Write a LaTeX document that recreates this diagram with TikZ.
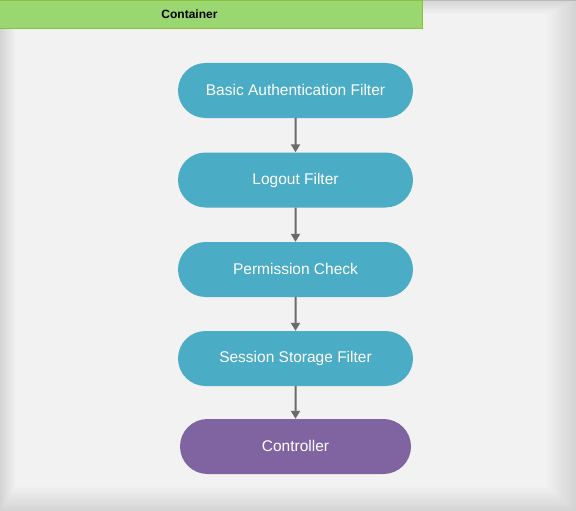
\documentclass[tikz,border=0pt]{standalone}
\usepackage{fontspec}
\setmainfont{Liberation Sans}
\usetikzlibrary{shapes.misc,arrows.meta}
\definecolor{bg}{HTML}{F2F2F2}
\definecolor{edge}{HTML}{D4D4D4}
\definecolor{hdr}{HTML}{9BD770}
\definecolor{hdrline}{HTML}{8CC03C}
\definecolor{blue}{HTML}{4BACC6}
\definecolor{purple}{HTML}{8064A2}
\definecolor{arrowc}{HTML}{6B6B6B}
\tikzset{
  x=1pt,y=-1pt,
  flownode/.style={rounded rectangle, fill=blue, draw=none, minimum width=235pt, minimum height=55pt, text=white, font=\fontsize{15.5}{18}\selectfont, inner sep=0pt},
  ctrlnode/.style={flownode, fill=purple, minimum width=231pt},
  flowarrow/.style={draw=arrowc, line width=2pt, -{Triangle[length=8pt,width=9pt]}}
}
\begin{document}
\begin{tikzpicture}
\useasboundingbox (0,0) rectangle (576,511);
% soft frame: nested rectangles from edge colour to background
\foreach \i in {0,...,20}{
  \pgfmathsetmacro\p{100-5*\i}
  \fill[edge!\p!bg] (0.8*\i,0.7*\i) rectangle (576-1.5*\i,511-1.2*\i);
}
\draw[gray!55, line width=1pt] (0,0.5) -- (576,0.5);
% header
\fill[hdr] (0,0) rectangle (422,29);
\draw[hdrline, line width=1pt] (0,0.5) -- (422,0.5) -- (422,29) -- (0,29);
\node[font=\bfseries\fontsize{12}{14}\selectfont, text=black] (hdr) at (189.5,14.5) {Container};
% nodes
\node[flownode] (baf) at (295.5,90.5) {\raisebox{1pt}{Basic Authentication Filter}};
\node[flownode] (lf) at (295.5,180) {\raisebox{1pt}{Logout Filter}};
\node[flownode] (pc) at (295.5,269.5) {\raisebox{1pt}{Permission Check}};
\node[flownode] (ssf) at (295.5,358.5) {\raisebox{1pt}{Session Storage Filter}};
\node[ctrlnode] (ctrl) at (295.5,446.5) {\raisebox{1pt}{Controller}};
% arrows
\draw[flowarrow] (baf) -- (lf);
\draw[flowarrow] (lf) -- (pc);
\draw[flowarrow] (pc) -- (ssf);
\draw[flowarrow] (ssf) -- (ctrl);
\end{tikzpicture}
\end{document}
